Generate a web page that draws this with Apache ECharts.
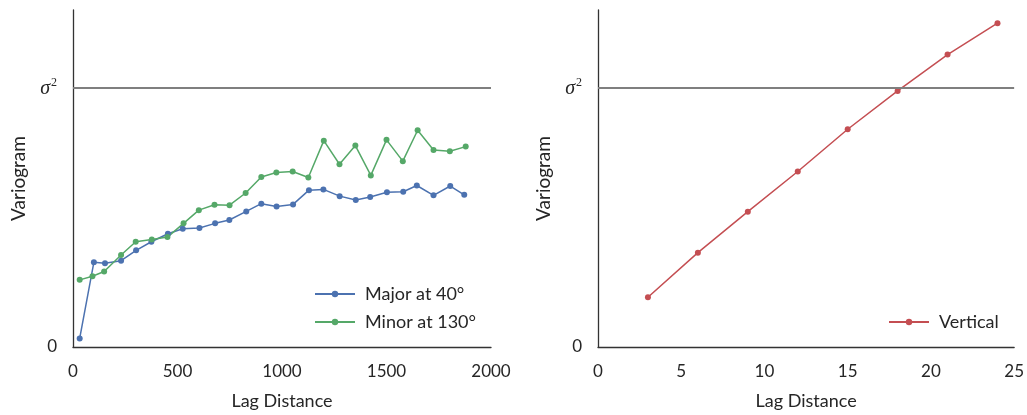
<!DOCTYPE html>
<html>
<head>
<meta charset="utf-8">
<script src="https://cdn.jsdelivr.net/npm/echarts@6/dist/echarts.min.js"></script>
<style>
html,body{margin:0;padding:0;background:#fff;}
#chart{width:1027px;height:415px;}
</style>
</head>
<body>
<div id="chart"></div>
<script>
// ---- data ----
const majorLag = [32,100,153,230,302,375,454,525,605,680,748,829,901,974,1053,1129,1198,1276,1353,1422,1502,1580,1645,1725,1805,1872];
const majorVal = [0.033,0.327,0.323,0.333,0.373,0.406,0.437,0.456,0.459,0.477,0.490,0.523,0.553,0.542,0.550,0.605,0.608,0.582,0.567,0.579,0.597,0.599,0.623,0.585,0.621,0.587];
const minorLag = [32,93,149,230,300,377,452,529,602,677,749,826,901,973,1051,1126,1200,1275,1351,1425,1500,1578,1649,1725,1803,1879];
const minorVal = [0.259,0.273,0.291,0.355,0.406,0.415,0.424,0.477,0.528,0.549,0.547,0.594,0.656,0.673,0.677,0.654,0.796,0.705,0.777,0.662,0.799,0.717,0.836,0.760,0.755,0.773];
const vertLag = [3,6,9,12,15,18,21,24];
const vertVal = [0.192,0.364,0.522,0.677,0.840,0.988,1.128,1.249];
const sill = 1;
const seriesNames = ['Major at 40°','Minor at 130°','Vertical'];
const colors = ['#4C72B0','#55A868','#C44E52'];
const xTicksLeft = [0,500,1000,1500,2000];
const xTicksRight = [0,5,10,15,20,25];

const pairs = (xs, ys) => xs.map((x,i)=>[x, ys[i]]);
const FONT = 'Lato';
const TXT = '#262626';

function yAxisCfg(gi){
  return {
    gridIndex: gi, type:'value', min:0, max:1.3, interval:1,
    name:'Variogram', nameLocation:'middle', nameGap:45,
    nameTextStyle:{fontFamily:FONT,fontSize:19,color:TXT},
    axisLine:{show:true,lineStyle:{color:'#333',width:1.3}},
    axisTick:{show:false}, splitLine:{show:false},
    axisLabel:{
      margin:16, fontFamily:FONT, fontSize:17, color:TXT,
      formatter: v => v===0 ? '0' : (Math.abs(v-sill)<1e-9 ? '{s|σ}{sup|2}' : ''),
      rich:{
        s:{fontFamily:'Liberation Serif',fontStyle:'italic',fontSize:20,color:TXT,verticalAlign:'bottom'},
        sup:{fontFamily:'Liberation Serif',fontSize:12,color:TXT,verticalAlign:'bottom',padding:[0,0,10,1]}
      }
    }
  };
}
function xAxisCfg(gi, ticks){
  return {
    gridIndex: gi, type:'value', min:ticks[0], max:ticks[ticks.length-1], interval:ticks[1]-ticks[0],
    name:'Lag Distance', nameLocation:'middle', nameGap:45,
    nameTextStyle:{fontFamily:FONT,fontSize:18,color:TXT},
    axisLine:{show:true,lineStyle:{color:'#333',width:1.3}},
    axisTick:{show:false}, splitLine:{show:false},
    axisLabel:{margin:16,fontFamily:FONT,fontSize:17,color:TXT, formatter: v => String(v)}
  };
}
const sillLine = {
  silent:true, symbol:['none','none'], label:{show:false},
  lineStyle:{color:'#7f7f7f',width:2,type:'solid'},
  data:[{yAxis:sill}]
};
function lineSeries(name, color, data, xi, withSill){
  const s = {
    name, type:'line', xAxisIndex:xi, yAxisIndex:xi, data,
    symbol:'circle', symbolSize:6, showSymbol:true,
    lineStyle:{color, width:1.5}, itemStyle:{color},
    animation:false
  };
  if (withSill) s.markLine = sillLine;
  return s;
}

const chart = echarts.init(document.getElementById('chart'));
chart.setOption({
  animation:false,
  backgroundColor:'#fff',
  grid:[
    {left:73, top:10, width:418, height:338},
    {left:598, top:10, width:417, height:338}
  ],
  xAxis:[xAxisCfg(0,xTicksLeft), xAxisCfg(1,xTicksRight)],
  yAxis:[yAxisCfg(0), yAxisCfg(1)],
  legend:[
    {data:[seriesNames[0],seriesNames[1]], orient:'vertical', left:309, top:278,
     itemWidth:40, itemHeight:8, itemGap:6,
     textStyle:{fontFamily:FONT,fontSize:18,color:TXT,padding:[0,0,0,5],lineHeight:22}},
    {data:[seriesNames[2]], orient:'vertical', left:883, top:306,
     itemWidth:40, itemHeight:8,
     textStyle:{fontFamily:FONT,fontSize:18,color:TXT,padding:[0,0,0,5],lineHeight:22}}
  ],
  series:[
    lineSeries(seriesNames[0], colors[0], pairs(majorLag, majorVal), 0, true),
    lineSeries(seriesNames[1], colors[1], pairs(minorLag, minorVal), 0, false),
    lineSeries(seriesNames[2], colors[2], pairs(vertLag, vertVal), 1, true)
  ]
});
</script>
</body>
</html>
